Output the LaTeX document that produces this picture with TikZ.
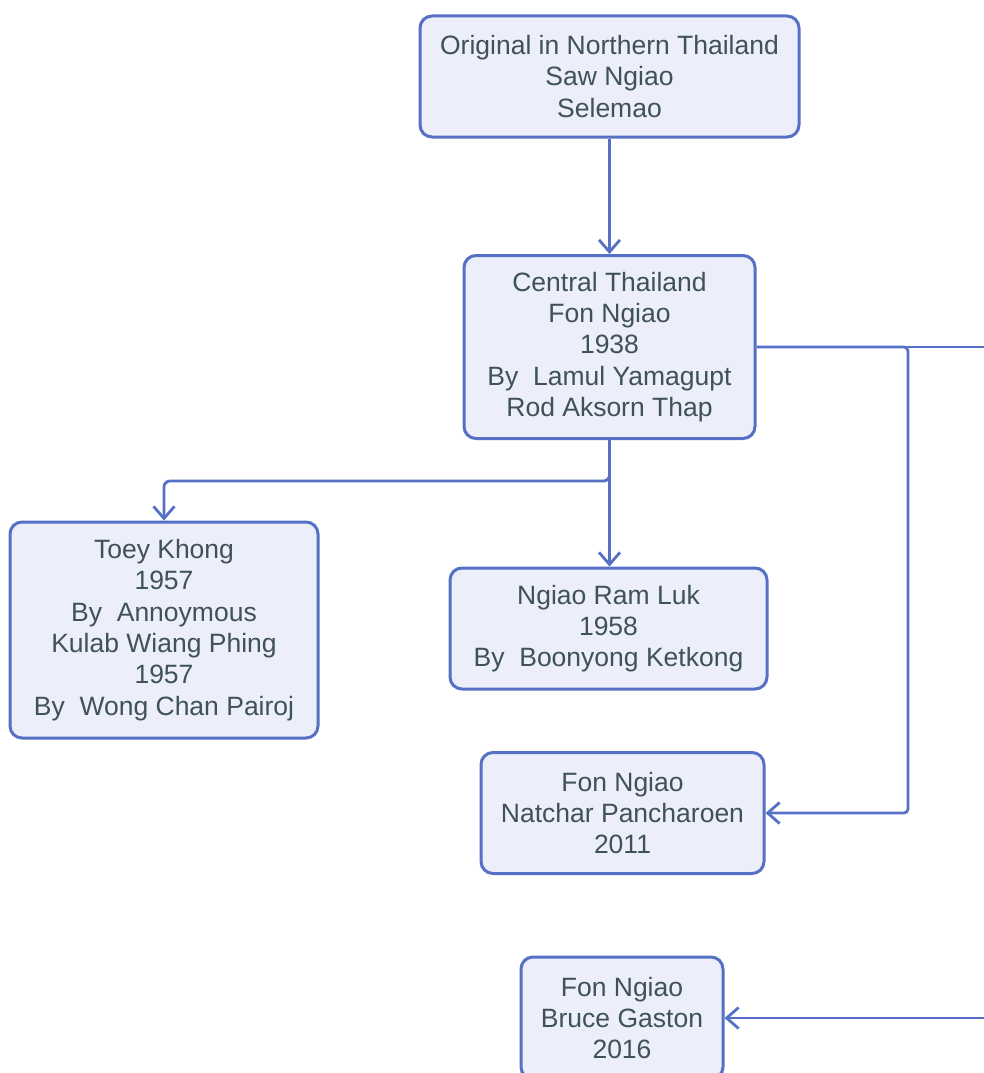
\documentclass[tikz,border=0pt]{standalone}
\usepackage{fontspec}
\setmainfont{Liberation Sans}
\usetikzlibrary{arrows.meta}
\definecolor{edgeblue}{HTML}{5570C5}
\definecolor{boxfill}{HTML}{ECEEF9}
\definecolor{ink}{HTML}{3F5159}
\begin{document}
\begin{tikzpicture}[x=1pt,y=-1pt,
  box/.style={draw=edgeblue, line width=3pt, fill=boxfill, rounded corners=12pt,
    text=ink, align=center, inner sep=0pt, font=\fontsize{26.5}{31.3}\selectfont},
  link/.style={draw=edgeblue, line width=2.8pt,
    -{Straight Barb[length=12pt,width=21pt]}}]
\useasboundingbox (0,0) rectangle (984,1073);
\clip (0,0) rectangle (984,1073);

% versions of the song
\node[box, minimum width=379pt, minimum height=121pt] (orig) at (609.5,76.5)
  {Original in Northern Thailand\\Saw Ngiao\\Selemao};
\node[box, minimum width=291pt, minimum height=183pt] (central) at (609.5,347)
  {Central Thailand\\Fon Ngiao\\1938\\By\ \ Lamul Yamagupt\\Rod Aksorn Thap};
\node[box, minimum width=308pt, minimum height=216pt] (toey) at (164,630)
  {Toey Khong\\1957\\By\ \ Annoymous\\Kulab Wiang Phing\\1957\\By\ \ Wong Chan Pairoj};
\node[box, minimum width=317pt, minimum height=121pt] (ramluk) at (608.5,628.5)
  {Ngiao Ram Luk\\1958\\By\ \ Boonyong Ketkong};
\node[box, minimum width=283pt, minimum height=121pt] (natchar) at (622.5,813)
  {Fon Ngiao\\Natchar Pancharoen\\2011};
\node[box, minimum width=202pt, minimum height=122pt] (bruce) at (622,1018)
  {Fon Ngiao\\Bruce Gaston\\2016};

% lineage connectors
\draw[link] (orig) -- (central);
\draw[link] (central.south) -- (central.south |- ramluk.north);
\draw[link, rounded corners=6pt] (central.south) -- ++(0,41) -| (toey.north);
\coordinate (col) at (908,0);
\coordinate (far) at (1000,0);
\draw[link, rounded corners=4pt] (central.east) -- (central.east -| col) |- (natchar.east);
\draw[link] (central.east) -- (central.east -| far) -- (bruce.east -| far) -- (bruce.east);
\end{tikzpicture}
\end{document}
